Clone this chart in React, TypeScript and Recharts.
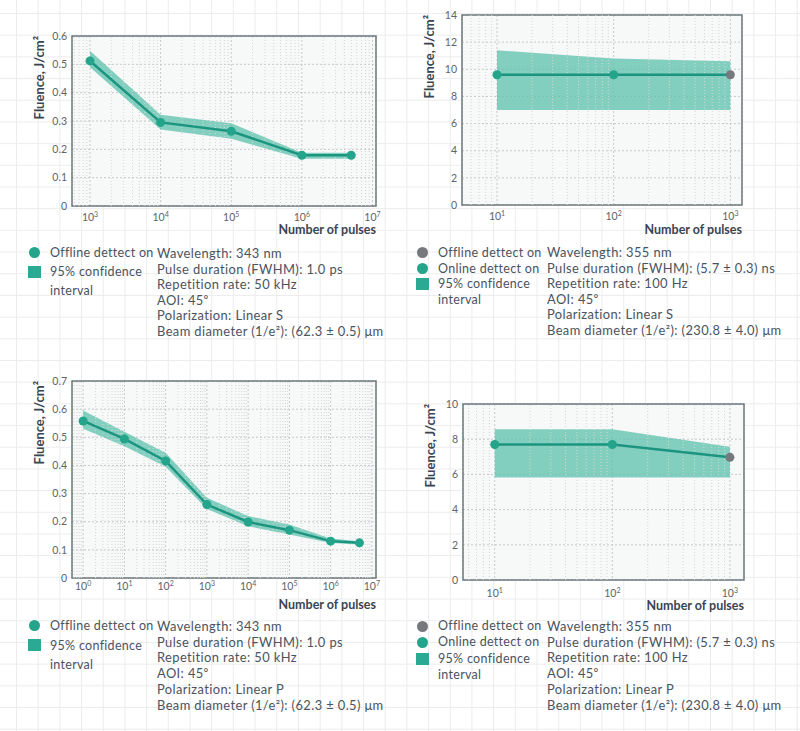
import React from 'react';
import { ComposedChart, Area, Line, XAxis, YAxis, CartesianGrid, ReferenceLine, ReferenceArea } from 'recharts';

const TEAL = '#23a48b';
const TEAL_LINE = '#1c9580';
const BAND = '#5cc2ac';
const GRAY_DOT = '#77777e';
const TEXT = '#4a5360';
const AXIS_TEXT = '#3a4552';
const TICK_TEXT = '#5d6468';
const FONT = 'Lato, "Open Sans", sans-serif';

// top left: 343 nm, linear S
const sPulses343 = [1e3, 1e4, 1e5, 1e6, 5e6];
const sFluence343 = [0.512, 0.295, 0.264, 0.179, 0.179];
const sLow343 = [0.49, 0.27, 0.237, 0.167, 0.167];
const sHigh343 = [0.548, 0.322, 0.292, 0.188, 0.188];
const sOffline343 = [false, false, false, false, false];

// top right: 355 nm, linear S
const sPulses355 = [10, 100, 1000];
const sFluence355 = [9.6, 9.6, 9.6];
const sLow355 = [7.0, 7.0, 7.0];
const sHigh355 = [11.4, 10.8, 10.6];
const sOffline355 = [false, false, true];

// bottom left: 343 nm, linear P
const pPulses343 = [1, 10, 100, 1e3, 1e4, 1e5, 1e6, 5e6];
const pFluence343 = [0.558, 0.494, 0.416, 0.261, 0.199, 0.17, 0.131, 0.125];
const pLow343 = [0.53, 0.468, 0.395, 0.245, 0.184, 0.155, 0.124, 0.119];
const pHigh343 = [0.595, 0.52, 0.445, 0.285, 0.22, 0.19, 0.14, 0.131];
const pOffline343 = [false, false, false, false, false, false, false, false];

// bottom right: 355 nm, linear P
const pPulses355 = [10, 100, 1000];
const pFluence355 = [7.7, 7.7, 6.97];
const pLow355 = [5.83, 5.83, 5.83];
const pHigh355 = [8.56, 8.56, 7.57];
const pOffline355 = [false, false, true];

const xTicks343S = [1e3, 1e4, 1e5, 1e6, 1e7];
const xTicks343P = [1, 10, 100, 1e3, 1e4, 1e5, 1e6, 1e7];
const xTicks355 = [10, 100, 1000];
const yTicks343S = [0, 0.1, 0.2, 0.3, 0.4, 0.5, 0.6];
const yTicks343P = [0, 0.1, 0.2, 0.3, 0.4, 0.5, 0.6, 0.7];
const yTicks355S = [0, 2, 4, 6, 8, 10, 12, 14];
const yTicks355P = [0, 2, 4, 6, 8, 10];

const info343S = ['Wavelength: 343 nm', 'Pulse duration (FWHM): 1.0 ps', 'Repetition rate: 50 kHz', 'AOI: 45⁰', 'Polarization: Linear S', 'Beam diameter (1/e²): (62.3 ± 0.5) μm'];
const info355S = ['Wavelength: 355 nm', 'Pulse duration (FWHM): (5.7 ± 0.3) ns', 'Repetition rate: 100 Hz', 'AOI: 45⁰', 'Polarization: Linear S', 'Beam diameter (1/e²): (230.8 ± 4.0) μm'];
const info343P = ['Wavelength: 343 nm', 'Pulse duration (FWHM): 1.0 ps', 'Repetition rate: 50 kHz', 'AOI: 45⁰', 'Polarization: Linear P', 'Beam diameter (1/e²): (62.3 ± 0.5) μm'];
const info355P = ['Wavelength: 355 nm', 'Pulse duration (FWHM): (5.7 ± 0.3) ns', 'Repetition rate: 100 Hz', 'AOI: 45⁰', 'Polarization: Linear P', 'Beam diameter (1/e²): (230.8 ± 4.0) μm'];

const minorTicks = (d0: number, d1: number) => {
  const out: number[] = [];
  for (let e = Math.floor(Math.log10(d0)); e <= Math.ceil(Math.log10(d1)); e++) {
    for (let k = 2; k <= 9; k++) {
      const v = k * Math.pow(10, e);
      if (v > d0 && v < d1) out.push(v);
    }
  }
  return out;
};

const makePowTick = (dy: number) => (props: any) => {
  const { x, y, payload } = props;
  const exp = Math.round(Math.log10(payload.value));
  return (
    <text x={x} y={y + dy} textAnchor="middle" fill={TICK_TEXT} fontSize={10.5} fontFamily={FONT}>
      10<tspan dy={-4} fontSize={7}>{exp}</tspan>
    </text>
  );
};

type PanelProps = {
  box: { left: number; top: number; width: number; height: number };
  plot: { x0: number; x1: number; y0: number; y1: number };
  pulses: number[];
  fluence: number[];
  low: number[];
  high: number[];
  offline: boolean[];
  xDomain: [number, number];
  xTicks: number[];
  yTicks: number[];
  tickDy: number;
  labelDy: number;
};

const Panel = ({ box, plot, pulses, fluence, low, high, offline, xDomain, xTicks, yTicks, tickDy, labelDy }: PanelProps) => {
  const data = pulses.map((p, i) => ({ pulses: p, fluence: fluence[i], band: [low[i], high[i]], offline: offline[i] }));
  const yAxisW = 40;
  const xAxisH = 30;
  const margin = {
    top: plot.y0 - box.top,
    left: plot.x0 - box.left - yAxisW,
    right: box.left + box.width - plot.x1,
    bottom: box.top + box.height - plot.y1 - xAxisH,
  };
  const yMax = yTicks[yTicks.length - 1];
  const minors = minorTicks(xDomain[0], xDomain[1]);
  const PowTick = makePowTick(tickDy);
  return (
    <div style={{ position: 'absolute', left: box.left, top: box.top }}>
      <ComposedChart width={box.width} height={box.height} data={data} margin={margin}>
        <CartesianGrid stroke="#c6caca" strokeDasharray="2 2" fill="#f7f8f8" />
        <XAxis
          dataKey="pulses"
          type="number"
          scale="log"
          domain={xDomain}
          ticks={xTicks}
          interval={0}
          allowDataOverflow
          height={xAxisH}
          tickSize={0}
          axisLine={false}
          tick={<PowTick />}
          label={(p: any) => {
            const vb = p.viewBox;
            return (
              <text x={vb.x + vb.width} y={vb.y + labelDy} textAnchor="end" fill={AXIS_TEXT} fontSize={12.5} fontWeight={700} fontFamily={FONT}>
                Number of pulses
              </text>
            );
          }}
        />
        <YAxis
          type="number"
          domain={[0, yMax]}
          ticks={yTicks}
          interval={0}
          width={yAxisW}
          tickSize={0}
          tickMargin={5}
          axisLine={false}
          tick={{ fill: TICK_TEXT, fontSize: 10.5, fontFamily: FONT }}
          label={(p: any) => {
            const vb = p.viewBox;
            const x = vb.x + vb.width - 33;
            const y = vb.y;
            return (
              <text x={x} y={y} transform={`rotate(-90, ${x}, ${y})`} textAnchor="end" dominantBaseline="central" fill={AXIS_TEXT} fontSize={13} fontWeight={700} fontFamily={FONT}>
                Fluence, J/cm²
              </text>
            );
          }}
        />
        {minors.map((v) => (
          <ReferenceLine key={v} x={v} stroke="#d3d6d6" strokeDasharray="1 2" ifOverflow="hidden" />
        ))}
        <Area
          dataKey="band"
          type="linear"
          stroke="none"
          fill={BAND}
          fillOpacity={0.75}
          isAnimationActive={false}
        />
        <Line
          dataKey="fluence"
          type="linear"
          stroke={TEAL_LINE}
          strokeWidth={2.5}
          isAnimationActive={false}
          dot={(d: any) => (
            <circle key={`dot-${d.index}`} cx={d.cx} cy={d.cy} r={4.5} fill={d.payload.offline ? GRAY_DOT : TEAL} stroke="none" />
          )}
        />
        <ReferenceArea x1={xDomain[0]} x2={xDomain[1]} y1={0} y2={yMax} fill="none" stroke="#6f797b" strokeWidth={1.5} ifOverflow="visible" />
      </ComposedChart>
    </div>
  );
};

type LegendRow = { text: string; marker?: 'circle' | 'gray' | 'square' };

const Legend = ({ left, top, lineHeight, rows }: { left: number; top: number; lineHeight: number; rows: LegendRow[] }) => (
  <div style={{ position: 'absolute', left, top, fontFamily: FONT, fontSize: 12.5, letterSpacing: 0.3, color: TEXT, lineHeight: `${lineHeight}px`, whiteSpace: 'nowrap' }}>
    {rows.map((r, i) => (
      <div key={i} style={{ position: 'relative', height: lineHeight }}>
        {r.marker === 'circle' || r.marker === 'gray' ? (
          <span style={{ position: 'absolute', left: -21, top: lineHeight / 2 - 5.5, width: 11, height: 11, borderRadius: '50%', background: r.marker === 'gray' ? GRAY_DOT : TEAL }} />
        ) : null}
        {r.marker === 'square' ? (
          <span style={{ position: 'absolute', left: -22, top: lineHeight / 2 - 6, width: 13, height: 12, background: '#2aa993' }} />
        ) : null}
        {r.text}
      </div>
    ))}
  </div>
);

const Info = ({ left, top, lineHeight, lines }: { left: number; top: number; lineHeight: number; lines: string[] }) => (
  <div style={{ position: 'absolute', left, top, fontFamily: FONT, fontSize: 12.9, letterSpacing: 0.4, color: TEXT, lineHeight: `${lineHeight}px`, whiteSpace: 'nowrap' }}>
    {lines.map((l, i) => (
      <div key={i}>{l}</div>
    ))}
  </div>
);

const legend1: LegendRow[] = [
  { text: 'Offline dettect on', marker: 'circle' },
  { text: '95% confidence', marker: 'square' },
  { text: 'interval' },
];
const legend2: LegendRow[] = [
  { text: 'Offline dettect on', marker: 'gray' },
  { text: 'Online dettect on', marker: 'circle' },
  { text: '95% confidence', marker: 'square' },
  { text: 'interval' },
];

export default function App() {
  return (
    <div
      style={{
        position: 'absolute',
        left: 0,
        top: 0,
        width: 800,
        height: 731,
        overflow: 'hidden',
        background: '#ffffff',
        backgroundImage:
          'linear-gradient(to right, #ececec 1px, transparent 1px), linear-gradient(to bottom, #ececec 1px, transparent 1px)',
        backgroundSize: '21.7px 21.7px',
        backgroundPosition: '16px 13px',
      }}
    >
      <Panel
        box={{ left: 0, top: 0, width: 400, height: 245 }}
        plot={{ x0: 72, x1: 376, y0: 36, y1: 206 }}
        pulses={sPulses343}
        fluence={sFluence343}
        low={sLow343}
        high={sHigh343}
        offline={sOffline343}
        xDomain={[Math.pow(10, 2.745), Math.pow(10, 7.05)]}
        xTicks={xTicks343S}
        yTicks={yTicks343S}
        tickDy={13}
        labelDy={28}
      />
      <Panel
        box={{ left: 400, top: 0, width: 400, height: 245 }}
        plot={{ x0: 462, x1: 742, y0: 15, y1: 205 }}
        pulses={sPulses355}
        fluence={sFluence355}
        low={sLow355}
        high={sHigh355}
        offline={sOffline355}
        xDomain={[Math.pow(10, 0.7), Math.pow(10, 3.1)]}
        xTicks={xTicks355}
        yTicks={yTicks355S}
        tickDy={13}
        labelDy={29}
      />
      <Panel
        box={{ left: 0, top: 360, width: 400, height: 255 }}
        plot={{ x0: 72, x1: 376, y0: 381, y1: 578 }}
        pulses={pPulses343}
        fluence={pFluence343}
        low={pLow343}
        high={pHigh343}
        offline={pOffline343}
        xDomain={[Math.pow(10, -0.27), Math.pow(10, 7.1)]}
        xTicks={xTicks343P}
        yTicks={yTicks343P}
        tickDy={9.5}
        labelDy={30.5}
      />
      <Panel
        box={{ left: 400, top: 380, width: 400, height: 235 }}
        plot={{ x0: 463, x1: 744, y0: 404, y1: 580 }}
        pulses={pPulses355}
        fluence={pFluence355}
        low={pLow355}
        high={pHigh355}
        offline={pOffline355}
        xDomain={[Math.pow(10, 0.73), Math.pow(10, 3.12)]}
        xTicks={xTicks355}
        yTicks={yTicks355P}
        tickDy={14.5}
        labelDy={30}
      />

      <Legend left={50} top={243} lineHeight={19} rows={legend1} />
      <Info left={157} top={246} lineHeight={15.6} lines={info343S} />

      <Legend left={438} top={245} lineHeight={15.7} rows={legend2} />
      <Info left={547} top={245} lineHeight={15.6} lines={info355S} />

      <Legend left={50} top={616} lineHeight={19.5} rows={legend1} />
      <Info left={157} top={619} lineHeight={15.7} lines={info343P} />

      <Legend left={438} top={618} lineHeight={16.3} rows={legend2} />
      <Info left={547} top={619} lineHeight={15.7} lines={info355P} />
    </div>
  );
}
